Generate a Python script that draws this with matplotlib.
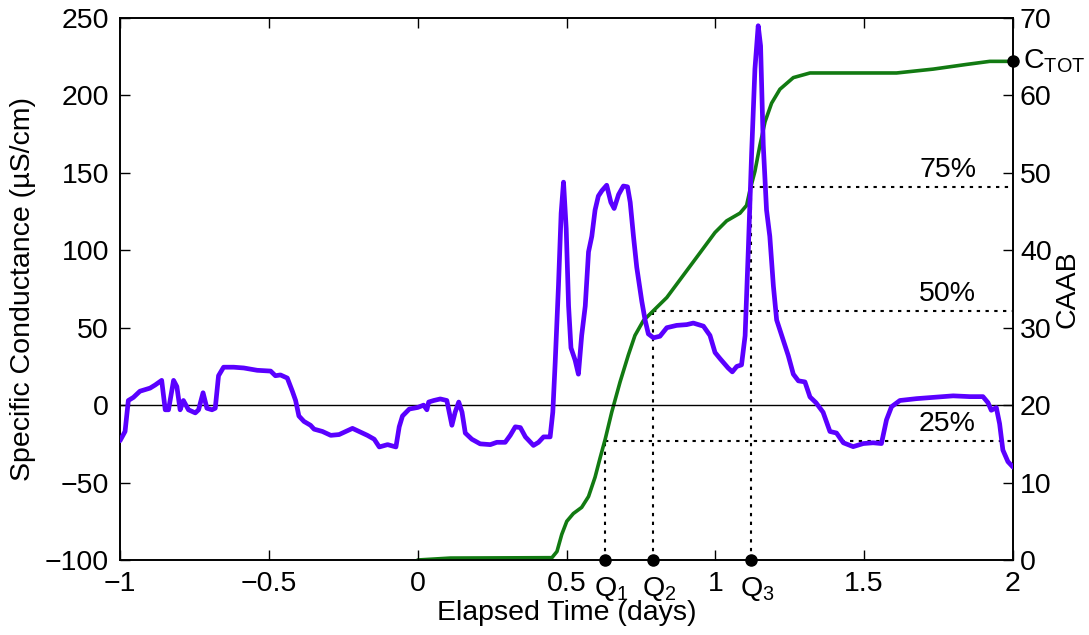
import matplotlib
matplotlib.use("Agg")
import matplotlib.pyplot as plt
from matplotlib.transforms import blended_transform_factory

plt.rcParams['font.family'] = ['Liberation Sans', 'DejaVu Sans']
plt.rcParams['mathtext.fontset'] = 'custom'
plt.rcParams['mathtext.rm'] = 'Liberation Sans'
plt.rcParams['axes.unicode_minus'] = True

# ---- data ----
sc_time = [-1.000, -0.983, -0.972, -0.955, -0.933, -0.899, -0.882, -0.860, -0.848, -0.837,
           -0.820, -0.809, -0.798, -0.787, -0.770, -0.747, -0.736, -0.721, -0.708, -0.691,
           -0.680, -0.669, -0.652, -0.618, -0.584, -0.539, -0.494, -0.478, -0.461, -0.438,
           -0.421, -0.410, -0.399, -0.382, -0.360, -0.348, -0.320, -0.292, -0.264, -0.236,
           -0.219, -0.197, -0.169, -0.146, -0.129, -0.101, -0.073, -0.062, -0.051, -0.028,
           0.000, 0.020, 0.031, 0.037, 0.054, 0.076, 0.098, 0.115, 0.126, 0.138,
           0.149, 0.160, 0.182, 0.210, 0.244, 0.266, 0.294, 0.311, 0.328, 0.345,
           0.362, 0.389, 0.406, 0.423, 0.445, 0.454, 0.462, 0.473, 0.482, 0.490,
           0.499, 0.507, 0.515, 0.529, 0.540, 0.551, 0.563, 0.574, 0.585, 0.596,
           0.607, 0.619, 0.635, 0.649, 0.660, 0.675, 0.691, 0.705, 0.714, 0.725,
           0.736, 0.753, 0.764, 0.775, 0.792, 0.814, 0.837, 0.870, 0.904, 0.926,
           0.960, 0.982, 0.999, 1.016, 1.043, 1.057, 1.072, 1.088, 1.100, 1.111,
           1.122, 1.133, 1.144, 1.152, 1.161, 1.172, 1.183, 1.195, 1.206, 1.223,
           1.245, 1.262, 1.279, 1.301, 1.318, 1.338, 1.362, 1.385, 1.407, 1.430,
           1.463, 1.497, 1.530, 1.558, 1.575, 1.592, 1.620, 1.676, 1.732, 1.799,
           1.855, 1.899, 1.916, 1.927, 1.944, 1.955, 1.966, 1.983, 2.000]
sc_value = [-23, -17, 3, 5, 9, 11, 13, 16, -3, -3,
            16, 12, -3, 3, -3, -5, -3, 8, -2, -3,
            -2, 19, 24.5, 24.5, 24, 22.5, 22, 19, 19.5, 17.5,
            9, 3, -7, -10.5, -13, -15.5, -17, -19.5, -19, -16.5,
            -15, -17, -19.5, -22, -27, -25.5, -27, -14, -7, -2.5,
            -1.5, 0, -3, 2, 3, 4, 3, -13, -4.5, 2,
            -4.5, -18, -22, -25, -25.5, -24, -24, -19.5, -14, -14.5,
            -20.5, -26, -24, -20.5, -20.5, -4.5, 27.5, 77, 124, 144,
            114, 64, 37, 29, 20, 45, 64, 99, 109, 126,
            135, 138.5, 142, 131, 127, 136, 141.5, 141, 131, 109,
            89, 67, 55, 46, 43.5, 44.5, 50, 51.5, 52, 53,
            51, 45, 34, 30, 24, 21.5, 25, 26, 44.8, 101.5,
            163, 217, 245, 232, 168, 126, 109, 77, 55, 45,
            32, 20, 15.7, 15, 5.3, 1.6, -4.6, -17, -18, -24.3,
            -26.8, -24.8, -24.3, -24.8, -9.5, -1, 3, 4.2, 5, 6,
            5.5, 5.5, 1.6, -3.3, -1.6, -12, -29, -36.5, -40]

caab_time = [0.000, 0.110, 0.451, 0.468, 0.484, 0.501, 0.523, 0.551, 0.574, 0.596,
             0.613, 0.630, 0.652, 0.680, 0.708, 0.730, 0.758, 0.792, 0.837, 0.893,
             0.949, 0.999, 1.038, 1.083, 1.105, 1.116, 1.133, 1.150, 1.167, 1.189,
             1.217, 1.262, 1.318, 1.396, 1.609, 1.732, 1.843, 1.922, 2.000]
caab_value = [0, 0.25, 0.3, 1.1, 3.3, 5, 6, 6.8, 8.2, 10.7,
              13.2, 15.6, 19.1, 23, 26.5, 29, 30.9, 32.2, 33.9, 36.8,
              39.7, 42.3, 43.8, 44.8, 45.8, 47.7, 50.2, 53.6, 56.6, 59,
              60.8, 62.3, 62.9, 62.9, 62.9, 63.4, 64, 64.4, 64.4]

q_times = [0.630, 0.792, 1.120]
q_levels = [15.4, 32.1, 48.2]
q_labels = [r'Q$_\mathregular{1}$', r'Q$_\mathregular{2}$', r'Q$_\mathregular{3}$']
pct_labels = ['25%', '50%', '75%']
c_tot = 64.4
c_tot_time = 2.0

x_ticks = [-1, -0.5, 0, 0.5, 1, 1.5, 2]
x_ticklabels = ['\u22121', '\u22120.5', '0', '0.5', '1', '1.5', '2']
left_ticks = [-100, -50, 0, 50, 100, 150, 200, 250]
right_ticks = [0, 10, 20, 30, 40, 50, 60, 70]

PURPLE = '#5a00ff'
GREEN = '#127a12'
FS = 20.5

fig = plt.figure(figsize=(10.89, 6.35), dpi=100)
ax = fig.add_axes([120 / 1089, 1 - 560 / 635, (1013 - 120) / 1089, (560 - 18) / 635])
ax2 = ax.twinx()

# green CAAB on right axis
ax2.plot(caab_time, caab_value, color=GREEN, lw=2.6, solid_capstyle='round',
         solid_joinstyle='round', zorder=3)
# dotted guide lines
dash = (0, (1.6, 2.6))
for qt, ql in zip(q_times, q_levels):
    ax2.plot([qt, 2.0], [ql, ql], color='black', lw=1.5, linestyle=dash, zorder=2)
    ax2.plot([qt, qt], [0, ql], color='black', lw=1.5, linestyle=dash, zorder=2)
for ql, pl in zip(q_levels, pct_labels):
    ax2.annotate(pl, xy=(1.78, ql), xytext=(0, 3), textcoords='offset points',
                 ha='center', va='bottom', fontsize=FS)
ax2.plot(q_times, [0] * len(q_times), 'o', color='black', ms=8, clip_on=False, zorder=6)
ax2.plot([c_tot_time], [c_tot], 'o', color='black', ms=8, clip_on=False, zorder=6)
ax2.annotate(r'C$_\mathregular{TOT}$', xy=(c_tot_time, c_tot), xytext=(7, 0),
             textcoords='offset points', ha='left', va='center', fontsize=FS,
             annotation_clip=False)

# purple conductance on left axis
ax.axhline(0, color='black', lw=1.0, zorder=1)
ax.plot(sc_time, sc_value, color=PURPLE, lw=3.4, solid_joinstyle='round',
        solid_capstyle='round', zorder=4)

ax.set_zorder(ax2.get_zorder() + 1)
ax.patch.set_visible(False)

ax.set_xlim(-1, 2)
ax.set_ylim(-100, 250)
ax2.set_ylim(0, 70)
ax.set_xticks(x_ticks)
ax.set_xticklabels(x_ticklabels)
ax.set_yticks(left_ticks)
ax.set_yticklabels([f'{t:g}'.replace('-', '\u2212') for t in left_ticks])
ax2.set_yticks(right_ticks)

ax.tick_params(axis='x', direction='in', top=True, length=7, width=1.0,
               labelsize=FS, pad=8)
ax.tick_params(axis='y', direction='in', left=True, right=False, length=7,
               width=1.0, labelsize=FS, pad=8)
ax2.tick_params(axis='y', direction='in', right=True, length=7, width=1.0,
                labelsize=FS, pad=5)
for a in (ax, ax2):
    for s in a.spines.values():
        s.set_linewidth(1.2)

trans = blended_transform_factory(ax.transData, ax.transAxes)
for qt, lab in zip(q_times, q_labels):
    ax.annotate(lab, xy=(qt, 0), xycoords=trans, xytext=(4.5, -10.5),
                textcoords='offset points', ha='center', va='top', fontsize=FS,
                annotation_clip=False)

ax.set_xlabel('Elapsed Time (days)', fontsize=FS, labelpad=2)
ax.set_ylabel('Specific Conductance (\u00b5S/cm)', fontsize=FS, labelpad=6)
ax2.set_ylabel('CAAB', fontsize=FS, labelpad=2)

fig.savefig('out.png', dpi=100)
